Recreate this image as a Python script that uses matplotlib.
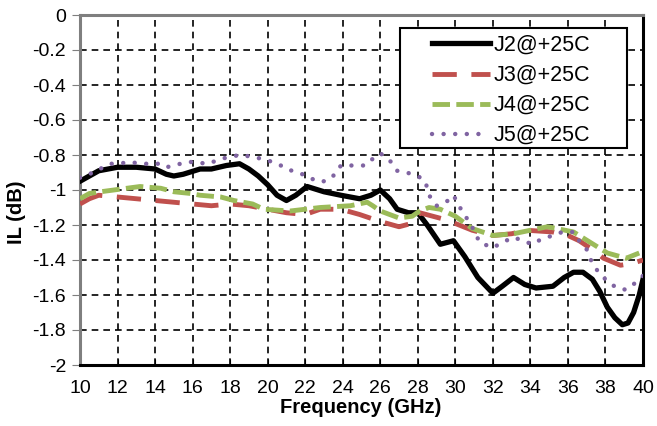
import matplotlib
matplotlib.use("Agg")
import matplotlib.pyplot as plt
from matplotlib.patches import Rectangle

plt.rcParams['font.family'] = ['Liberation Sans', 'DejaVu Sans']

# J2 (solid black)
f_j2 = [10, 10.5, 11, 12, 13, 14, 14.6, 15, 15.5, 16.4, 17, 17.8, 18.5, 19, 19.5, 20, 20.5, 21,
        21.5, 22.1, 23, 23.9, 24.9, 25.5, 26, 26.5, 26.9, 27.5, 28, 28.5, 29.2, 29.9, 30.5, 31.2,
        32, 32.5, 33.1, 33.7, 34.3, 35.2, 35.8, 36.3, 36.8, 37.3, 37.7, 38.1, 38.5, 38.9, 39.2,
        39.5, 39.8, 40]
il_j2 = [-0.95, -0.92, -0.89, -0.87, -0.87, -0.88, -0.91, -0.92, -0.91, -0.88, -0.88, -0.86,
         -0.85, -0.88, -0.92, -0.97, -1.03, -1.06, -1.03, -0.98, -1.01, -1.03, -1.05, -1.03,
         -1.00, -1.05, -1.11, -1.13, -1.13, -1.20, -1.31, -1.29, -1.38, -1.50, -1.59, -1.55,
         -1.50, -1.54, -1.56, -1.55, -1.50, -1.47, -1.47, -1.51, -1.58, -1.67, -1.73, -1.77,
         -1.76, -1.70, -1.60, -1.51]

# J3 (red dashed)
f_j3 = [10, 10.5, 11, 12, 13, 14, 15, 16, 17, 18, 19, 20, 21, 22, 22.8, 23.9, 24.9, 26, 27,
        27.7, 28.1, 29.5, 30.9, 32, 33, 33.8, 35.2, 36, 36.6, 37.3, 37.9, 38.8, 39.4, 40]
il_j3 = [-1.08, -1.05, -1.03, -1.04, -1.05, -1.06, -1.07, -1.08, -1.09, -1.08, -1.09, -1.11,
         -1.13, -1.14, -1.11, -1.11, -1.14, -1.18, -1.21, -1.19, -1.13, -1.17, -1.23, -1.26,
         -1.25, -1.23, -1.24, -1.26, -1.29, -1.34, -1.39, -1.43, -1.42, -1.40]

# J4 (green dashed)
f_j4 = [10, 10.5, 11.1, 12.5, 13.2, 14.3, 15, 15.9, 16.4, 17.5, 18.2, 19.2, 19.8, 21.2, 22.8,
        24.4, 25.3, 25.6, 26, 27, 27.7, 28.1, 28.6, 29.2, 30, 30.9, 32, 33.1, 34, 34.9, 35.4,
        36.3, 37.2, 38.1, 39.1, 39.8]
il_j4 = [-1.05, -1.02, -1.01, -0.99, -0.98, -0.99, -1.01, -1.02, -1.03, -1.04, -1.06, -1.08,
         -1.11, -1.12, -1.10, -1.09, -1.07, -1.09, -1.12, -1.16, -1.15, -1.12, -1.10, -1.11,
         -1.15, -1.22, -1.26, -1.25, -1.23, -1.21, -1.22, -1.24, -1.30, -1.36, -1.39, -1.36]

# J5 (purple dotted)
f_j5 = [10, 10.7, 11.6, 12, 12.7, 13.2, 13.7, 14.3, 14.6, 15, 15.7, 16, 16.8, 17.6, 18.5, 19.2,
        19.6, 20, 20.7, 21, 21.6, 22.1, 22.6, 23.1, 23.6, 23.9, 24.6, 25.2, 25.5, 26, 26.5, 26.9,
        27.4, 28, 28.4, 28.6, 29, 29.5, 29.9, 30.4, 30.8, 31.3, 32, 32.5, 33.1, 33.6, 34.1, 34.6,
        35.2, 35.7, 36.3, 36.6, 37, 37.3, 37.7, 38.1, 38.6, 39.1, 39.6, 40]
il_j5 = [-0.93, -0.90, -0.85, -0.85, -0.84, -0.85, -0.85, -0.85, -0.87, -0.86, -0.84, -0.84,
         -0.85, -0.82, -0.80, -0.81, -0.82, -0.83, -0.86, -0.88, -0.90, -0.92, -0.95, -0.95,
         -0.91, -0.86, -0.86, -0.86, -0.83, -0.79, -0.83, -0.89, -0.90, -0.92, -0.95, -1.03,
         -1.09, -1.07, -1.03, -1.13, -1.19, -1.30, -1.33, -1.30, -1.27, -1.29, -1.31, -1.28,
         -1.26, -1.24, -1.24, -1.29, -1.34, -1.42, -1.48, -1.52, -1.56, -1.57, -1.53, -1.49]

labels = ['J2@+25C', 'J3@+25C', 'J4@+25C', 'J5@+25C']
xticks = list(range(10, 41, 2))
yticks = [0, -0.2, -0.4, -0.6, -0.8, -1, -1.2, -1.4, -1.6, -1.8, -2]

W, H = 657, 426
fig = plt.figure(figsize=(W / 100, H / 100), dpi=100)
ax = fig.add_axes([80 / W, 1 - 365 / H, 563 / W, 350 / H])

ax.plot(f_j2, il_j2, color='black', lw=3.8, solid_joinstyle='round', label=labels[0], zorder=3)
ax.plot(f_j3, il_j3, color='#c0504d', lw=3.5, linestyle=(0, (5, 3)), label=labels[1], zorder=3)
ax.plot(f_j4, il_j4, color='#9bbb59', lw=3.5, linestyle=(0, (3.6, 1.3)), label=labels[2], zorder=3)
ax.plot(f_j5, il_j5, color='#8064a2', lw=3.2, linestyle=(0, (0.01, 2.6)),
        dash_capstyle='round', label=labels[3], zorder=3)

ax.set_xlim(10, 40)
ax.set_ylim(-2, 0)
ax.set_xticks(xticks)
ax.set_yticks(yticks)
ax.set_yticklabels([('%g' % v) for v in yticks])
ax.tick_params(axis='both', labelsize=14, colors='black')
ax.tick_params(axis='y', direction='out', length=6, pad=4, color='#7f7f7f')
ax.tick_params(axis='x', direction='in', length=4, pad=11)

ax.grid(True, color='black', lw=1.2, linestyle=(0, (4, 3)))
ax.set_axisbelow(True)

for side in ['left', 'top']:
    ax.spines[side].set_color('#7f7f7f')
    ax.spines[side].set_linewidth(2.2)
for side in ['right', 'bottom']:
    ax.spines[side].set_color('black')
    ax.spines[side].set_linewidth(2.2)

ax.set_xlabel('Frequency (GHz)', fontsize=14.5, fontweight='bold')
ax.set_ylabel('IL (dB)', fontsize=14.5, fontweight='bold')
ax.xaxis.set_label_coords(361 / W, 1 - 398 / H, transform=fig.transFigure)
ax.yaxis.set_label_coords(26 / W, 1 - 212 / H, transform=fig.transFigure)

# legend frame drawn by hand, entries placed inside it
frame = Rectangle((400 / W, 1 - 148 / H), 227 / W, 120 / H, transform=fig.transFigure,
                  facecolor='white', edgecolor='black', lw=1.5, zorder=4, clip_on=False)
ax.add_patch(frame)
leg = ax.legend(loc='upper left', bbox_to_anchor=(432 / W, 1 - 35 / H),
                bbox_transform=fig.transFigure, fontsize=15.5, frameon=False,
                borderaxespad=0, borderpad=0, handlelength=2.7,
                labelspacing=0.42, handletextpad=0.15)
leg.set_zorder(5)

fig.savefig('out.png', dpi=100)
